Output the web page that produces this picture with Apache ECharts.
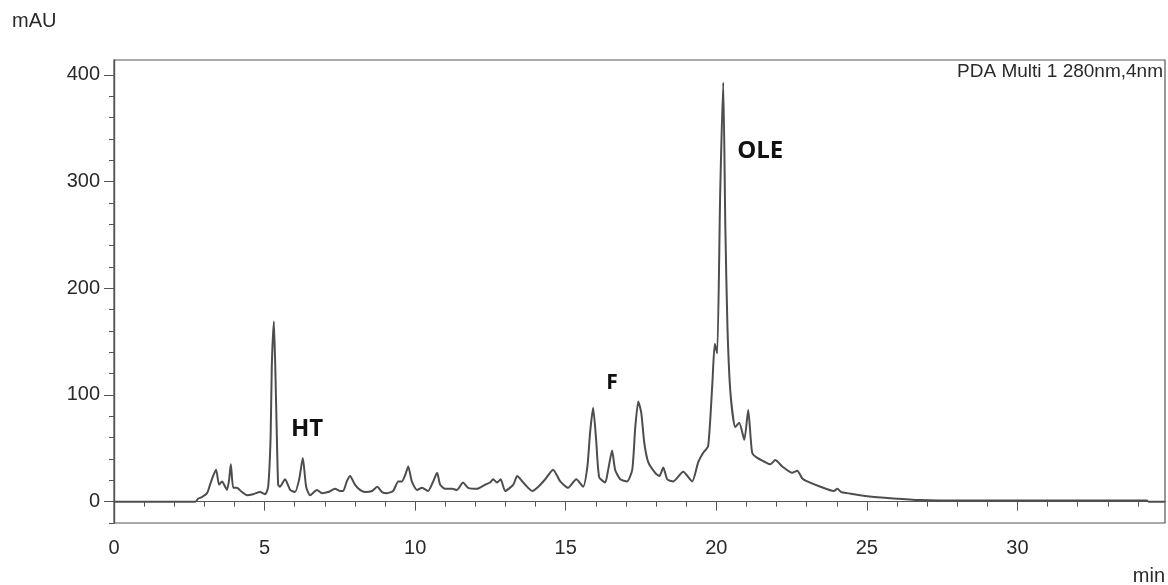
<!DOCTYPE html>
<html>
<head>
<meta charset="utf-8">
<script src="https://cdn.jsdelivr.net/npm/echarts@6/dist/echarts.min.js"></script>
<style>
    html, body { margin: 0; padding: 0; background: #fff; }
    #chart { width: 1168px; height: 585px; }
</style>
</head>
<body>
<div id="chart"></div>
<script>
// retention time (min) and absorbance (mAU)
const retentionMin = [
    0, 2.7, 2.8, 2.9, 3.09, 3.19, 3.29, 3.39, 3.49, 3.59,
    3.69, 3.75, 3.82, 3.88, 3.96, 4.08, 4.25, 4.42, 4.62, 4.85,
    5.02, 5.12, 5.2, 5.24, 5.31, 5.38, 5.45, 5.51, 5.68, 5.85,
    6.01, 6.15, 6.27, 6.38, 6.51, 6.74, 6.91, 7.11, 7.34, 7.51,
    7.61, 7.73, 7.84, 8.0, 8.17, 8.34, 8.57, 8.74, 8.9, 9.07,
    9.27, 9.44, 9.56, 9.67, 9.77, 9.89, 10.06, 10.23, 10.43, 10.6,
    10.73, 10.83, 11.0, 11.23, 11.39, 11.59, 11.76, 12.06, 12.33, 12.49,
    12.59, 12.72, 12.84, 12.99, 13.26, 13.39, 13.59, 13.89, 14.09, 14.32,
    14.58, 14.82, 15.08, 15.35, 15.58, 15.72, 15.81, 15.91, 16.01, 16.11,
    16.31, 16.41, 16.54, 16.64, 16.81, 17.04, 17.21, 17.31, 17.41, 17.51,
    17.61, 17.74, 17.97, 18.11, 18.24, 18.37, 18.57, 18.9, 19.2, 19.4,
    19.57, 19.73, 19.87, 19.95, 20.03, 20.13, 20.23, 20.3, 20.37, 20.47,
    20.63, 20.76, 20.93, 21.06, 21.19, 21.36, 21.63, 21.79, 21.96, 22.19,
    22.52, 22.69, 22.85, 23.02, 23.46, 23.9, 24.02, 24.15, 24.35, 25.02,
    25.88, 26.78, 28.1, 34.3, 34.35, 34.9
];
const signalMAU = [
    0, 0, 3, 4, 8, 16, 24, 30, 16, 19,
    14, 11, 20, 35, 13, 13, 9, 6, 7, 9,
    7, 14, 60, 127, 169, 96, 16, 14, 21, 11,
    9, 21, 41, 14, 6, 11, 8, 9, 12, 10,
    10, 19, 24, 16, 11, 9, 10, 14, 9, 8,
    10, 19, 19, 25, 33, 19, 11, 13, 10, 19,
    27, 16, 12, 12, 11, 18, 13, 12, 16, 18,
    21, 18, 21, 10, 16, 24, 18, 10, 14, 21,
    30, 19, 13, 21, 14, 33, 65, 88, 58, 23,
    18, 30, 48, 30, 21, 19, 30, 70, 94, 83,
    55, 37, 27, 24, 32, 21, 19, 28, 19, 37,
    46, 52, 111, 148, 139, 290, 393, 258, 164, 102,
    70, 74, 58, 86, 46, 41, 37, 35, 39, 33,
    27, 29, 22, 19, 14, 10, 12, 9, 8, 5,
    3, 1.5, 1, 1, 0, 0
];

// ticks
const xMajorTicks = [0, 5, 10, 15, 20, 25, 30];
const xMinorTicks = [];
for (let t = 0; t <= 34; t++) xMinorTicks.push(t);
const yMajorTicks = [0, 100, 200, 300, 400];
const yMinorTicks = [];
for (let v = -20; v <= 400; v += 20) yMinorTicks.push(v);

// peak annotations [name, time, mAU, fontSize]
const peakLabels = [
    ['HT', 6.41, 68, 24],
    ['F', 16.54, 111, 21],
    ['OLE', 21.46, 329, 24]
];

const chart = echarts.init(document.getElementById('chart'));

const axisColor = '#555';
const textColor = '#2a2a2a';
const tickFont = 'Liberation Sans, Arial, sans-serif';

function valueAxis(base) {
    return Object.assign({
        type: 'value',
        splitLine: { show: false },
        axisLine: { show: true, lineStyle: { color: axisColor, width: 1.2 } }
    }, base);
}

chart.setOption({
    animation: false,
    backgroundColor: '#fff',
    grid: {
        left: 114, right: 3, top: 60, bottom: 62,
        show: true, borderColor: axisColor, borderWidth: 1.2
    },
    xAxis: [
        valueAxis({
            min: 0, max: 34.9,
            axisTick: { show: true, customValues: xMinorTicks, length: 5, lineStyle: { color: axisColor } },
            axisLabel: { show: false }
        }),
        valueAxis({
            min: 0, max: 34.9, position: 'bottom',
            axisTick: { show: true, customValues: xMajorTicks, length: 9, lineStyle: { color: axisColor } },
            axisLabel: {
                customValues: xMajorTicks, margin: 15,
                fontSize: 20, color: textColor, fontFamily: tickFont
            }
        })
    ],
    yAxis: [
        valueAxis({
            min: -20, max: 414,
            axisTick: { show: true, customValues: yMinorTicks, length: 5, lineStyle: { color: axisColor } },
            axisLabel: { show: false }
        }),
        valueAxis({
            min: -20, max: 414, position: 'left',
            axisTick: { show: true, customValues: yMajorTicks, length: 10, lineStyle: { color: axisColor } },
            axisLabel: {
                customValues: yMajorTicks, margin: 14,
                fontSize: 20, color: textColor, fontFamily: tickFont
            }
        })
    ],
    graphic: [
        { type: 'text', left: 12, top: 11,
          style: { text: 'mAU', fontSize: 20, fill: textColor, fontFamily: tickFont } },
        { type: 'text', right: 3, top: 566,
          style: { text: 'min', fontSize: 20, fill: textColor, fontFamily: tickFont } },
        { type: 'text', right: 5, top: 62,
          style: { text: 'PDA Multi 1 280nm,4nm', fontSize: 19, fill: textColor, fontFamily: tickFont } }
    ],
    series: [{
        type: 'line',
        xAxisIndex: 0,
        yAxisIndex: 0,
        data: retentionMin.map((t, i) => [t, signalMAU[i]]),
        showSymbol: false,
        smooth: 0.2,
        lineStyle: { color: '#4d4d4d', width: 2 },
        markPoint: {
            symbol: 'circle',
            symbolSize: 0,
            data: peakLabels.map(([name, t, v, size]) => ({
                name: name,
                coord: [t, v],
                label: {
                    show: true, position: 'inside', formatter: name,
                    fontSize: size, fontWeight: 'bold', color: '#111',
                    fontFamily: 'Open Sans, sans-serif'
                }
            }))
        }
    }]
});
</script>
</body>
</html>
